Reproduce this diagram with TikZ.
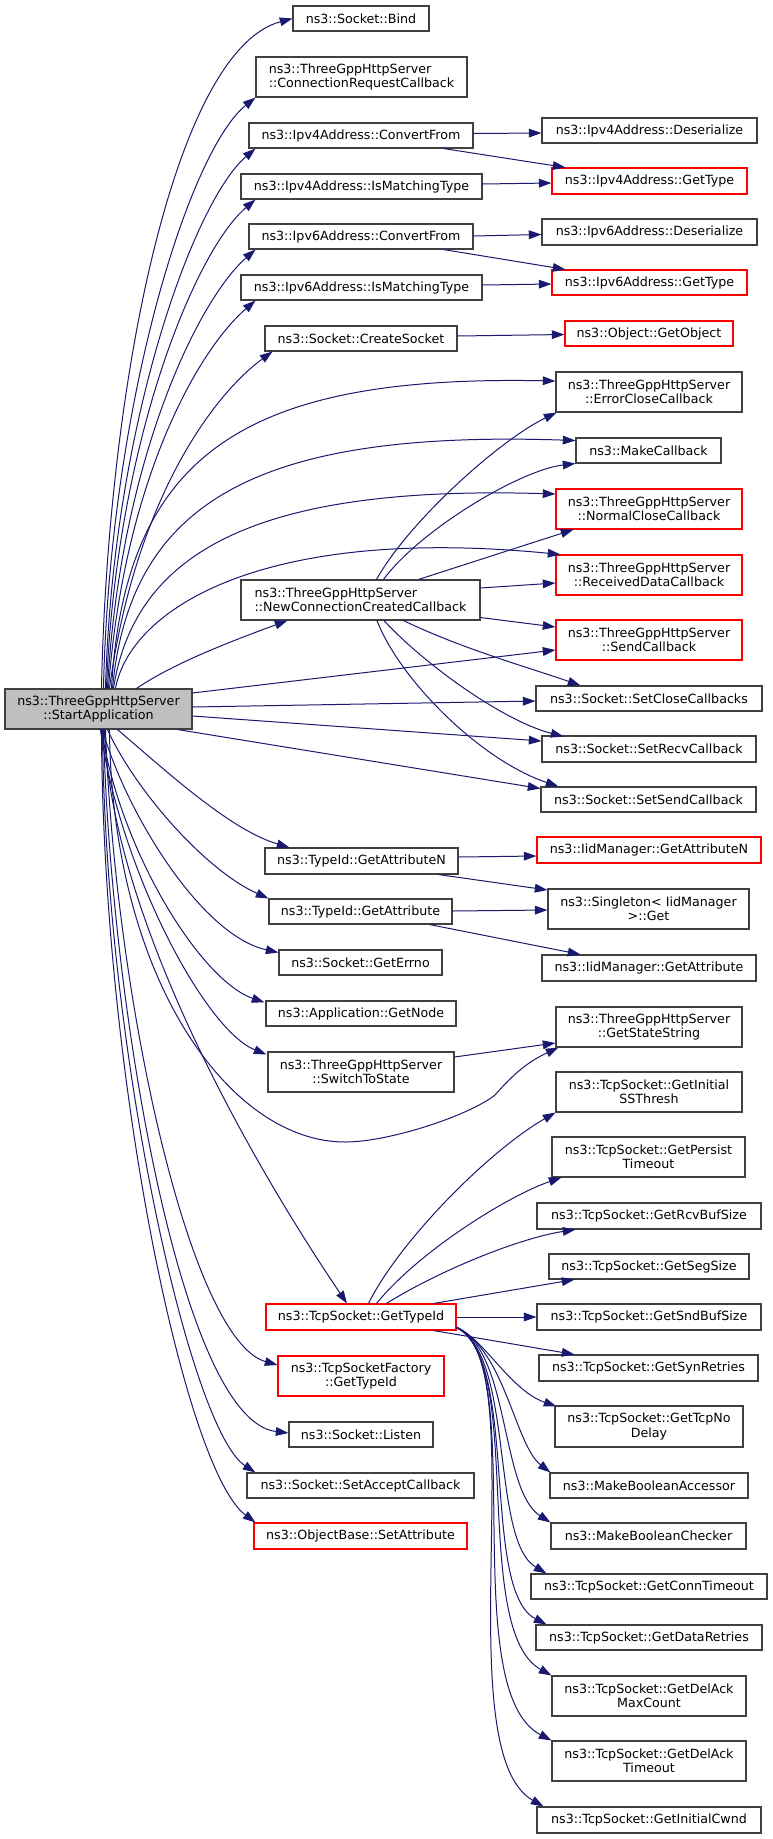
\documentclass[tikz,border=0pt]{standalone}
\usepackage{fontspec}
\setmainfont{DejaVu Sans}
\usetikzlibrary{arrows.meta,calc}
\definecolor{edgec}{HTML}{191970}
\definecolor{boxc}{HTML}{404040}
\definecolor{redc}{HTML}{FF0000}
\definecolor{rootc}{HTML}{BFBFBF}
\tikzset{
 bx/.style={draw=boxc, line width=0.8pt, fill=white, inner sep=0pt, align=center, font=\fontsize{9.5}{10.7}\selectfont},
 rbx/.style={bx, draw=redc},
 rootbx/.style={bx, fill=rootc},
 lbx/.style={bx, align=left},
 conn/.style={draw=edgec, line width=0.75pt, -{Triangle[length=9.5pt,width=6.5pt]}},
}
\newcommand\mkbox[7]{\node[#1,minimum width={#5*0.75pt},minimum height={#6*0.75pt}] (#2) at (#3,#4) {#7};}
\begin{document}
\begin{tikzpicture}[x=0.75pt,y=-0.75pt]
\fill[white] (0,0) rectangle (773,1839);
\useasboundingbox (0,0) rectangle (773,1839);
% column 1
\mkbox{rootbx}{S}{98.5}{709}{187}{40}{ns3::ThreeGppHttpServer\\::StartApplication}
% column 2
\mkbox{bx}{Bind}{361}{18.5}{136}{25}{ns3::Socket::Bind}
\mkbox{lbx}{CR}{361.5}{77}{211}{40}{ns3::ThreeGppHttpServer\\::ConnectionRequestCallback}
\mkbox{bx}{C4}{361}{135.5}{224}{25}{ns3::Ipv4Address::ConvertFrom}
\mkbox{bx}{M4}{361.5}{186.5}{241}{25}{ns3::Ipv4Address::IsMatchingType}
\mkbox{bx}{C6}{361}{236.5}{224}{25}{ns3::Ipv6Address::ConvertFrom}
\mkbox{bx}{M6}{361.5}{287.5}{241}{25}{ns3::Ipv6Address::IsMatchingType}
\mkbox{bx}{CS}{361}{338.5}{192}{25}{ns3::Socket::CreateSocket}
\mkbox{lbx}{NCC}{360.5}{600}{239}{40}{ns3::ThreeGppHttpServer\\::NewConnectionCreatedCallback}
\mkbox{bx}{GAN}{361.5}{861}{193}{26}{ns3::TypeId::GetAttributeN}
\mkbox{bx}{GA}{360.5}{911.5}{183}{25}{ns3::TypeId::GetAttribute}
\mkbox{bx}{GE}{360.5}{962.5}{163}{25}{ns3::Socket::GetErrno}
\mkbox{bx}{GN}{361}{1013.5}{190}{25}{ns3::Application::GetNode}
\mkbox{bx}{STS}{361}{1072}{186}{40}{ns3::ThreeGppHttpServer\\::SwitchToState}
\mkbox{rbx}{TT}{361}{1317}{190}{26}{ns3::TcpSocket::GetTypeId}
\mkbox{rbx}{TF}{361}{1376}{166}{40}{ns3::TcpSocketFactory\\::GetTypeId}
\mkbox{bx}{LI}{361}{1434.5}{144}{25}{ns3::Socket::Listen}
\mkbox{bx}{SAC}{360.5}{1485.5}{227}{25}{ns3::Socket::SetAcceptCallback}
\mkbox{rbx}{OSA}{360.5}{1536}{213}{26}{ns3::ObjectBase::SetAttribute}
% column 3
\mkbox{bx}{D4}{649.5}{130.5}{215}{25}{ns3::Ipv4Address::Deserialize}
\mkbox{rbx}{G4}{649.5}{181}{195}{26}{ns3::Ipv4Address::GetType}
\mkbox{bx}{D6}{649.5}{232}{215}{26}{ns3::Ipv6Address::Deserialize}
\mkbox{rbx}{G6}{649.5}{282.5}{195}{25}{ns3::Ipv6Address::GetType}
\mkbox{rbx}{GO}{649}{333.5}{168}{25}{ns3::Object::GetObject}
\mkbox{bx}{EC}{649}{392}{186}{40}{ns3::ThreeGppHttpServer\\::ErrorCloseCallback}
\mkbox{bx}{MC}{648.5}{450.5}{145}{25}{ns3::MakeCallback}
\mkbox{rbx}{NC}{649}{509}{186}{40}{ns3::ThreeGppHttpServer\\::NormalCloseCallback}
\mkbox{rbx}{RD}{649}{575}{186}{40}{ns3::ThreeGppHttpServer\\::ReceivedDataCallback}
\mkbox{rbx}{SC}{649}{640}{186}{40}{ns3::ThreeGppHttpServer\\::SendCallback}
\mkbox{bx}{SCC}{649}{698.5}{226}{25}{ns3::Socket::SetCloseCallbacks}
\mkbox{bx}{SRC}{649}{749}{214}{26}{ns3::Socket::SetRecvCallback}
\mkbox{bx}{SSC}{648.5}{799.5}{215}{25}{ns3::Socket::SetSendCallback}
\mkbox{rbx}{IGAN}{649}{850}{224}{26}{ns3::IidManager::GetAttributeN}
\mkbox{bx}{SG}{648.5}{909}{201}{40}{ns3::Singleton< IidManager\\>::Get}
\mkbox{bx}{IGA}{649}{968}{214}{26}{ns3::IidManager::GetAttribute}
\mkbox{bx}{GSS}{649}{1027}{186}{40}{ns3::ThreeGppHttpServer\\::GetStateString}
\mkbox{bx}{SS}{649}{1092}{186}{40}{ns3::TcpSocket::GetInitial\\SSThresh}
\mkbox{bx}{PT}{648.5}{1157}{193}{40}{ns3::TcpSocket::GetPersist\\Timeout}
\mkbox{bx}{RB}{649}{1216}{224}{26}{ns3::TcpSocket::GetRcvBufSize}
\mkbox{bx}{SG2}{649}{1266.5}{200}{25}{ns3::TcpSocket::GetSegSize}
\mkbox{bx}{SB}{649}{1317}{224}{26}{ns3::TcpSocket::GetSndBufSize}
\mkbox{bx}{SR}{648.5}{1368}{219}{26}{ns3::TcpSocket::GetSynRetries}
\mkbox{bx}{ND}{649}{1426.5}{188}{41}{ns3::TcpSocket::GetTcpNo\\Delay}
\mkbox{bx}{MBA}{649}{1485.5}{198}{25}{ns3::MakeBooleanAccessor}
\mkbox{bx}{MBC}{648.5}{1536}{195}{26}{ns3::MakeBooleanChecker}
\mkbox{bx}{CT}{649}{1586.5}{236}{25}{ns3::TcpSocket::GetConnTimeout}
\mkbox{bx}{DR}{649}{1637.5}{226}{25}{ns3::TcpSocket::GetDataRetries}
\mkbox{bx}{DAM}{649}{1696}{194}{40}{ns3::TcpSocket::GetDelAck\\MaxCount}
\mkbox{bx}{DAT}{649}{1761}{194}{40}{ns3::TcpSocket::GetDelAck\\Timeout}
\mkbox{bx}{IC}{649}{1820}{224}{26}{ns3::TcpSocket::GetInitialCwnd}
% edges from StartApplication, upward
\draw[conn] ($(S.north west)+(97,0)$) .. controls (108,380) and (175,50) .. (Bind.west);
\draw[conn] ($(S.north west)+(99,0)$) .. controls (110,400) and (190,150) .. (CR.south west);
\draw[conn] ($(S.north west)+(101,0)$) .. controls (113,420) and (195,200) .. ($(C4.south west)+(7,0)$);
\draw[conn] ($(S.north west)+(102,0)$) .. controls (116,440) and (196,250) .. ($(M4.south west)+(15,0)$);
\draw[conn] ($(S.north west)+(103,0)$) .. controls (120,460) and (198,300) .. ($(C6.south west)+(7,0)$);
\draw[conn] ($(S.north west)+(104,0)$) .. controls (124,480) and (198,350) .. ($(M6.south west)+(15,0)$);
\draw[conn] ($(S.north west)+(105,0)$) .. controls (135,500) and (213,395) .. ($(CS.south west)+(8,0)$);
\draw[conn] ($(S.north west)+(107,0)$) .. controls (125,450) and (250,375) .. ($(EC.west)+(0,-11)$);
\draw[conn] ($(S.north west)+(108,0)$) .. controls (130,500) and (260,430) .. ($(MC.west)+(0,-10)$);
\draw[conn] ($(S.north west)+(109,0)$) .. controls (135,550) and (260,485) .. ($(NC.west)+(0,-15)$);
\draw[conn] ($(S.north west)+(111,0)$) .. controls (130,610) and (260,525) .. ($(RD.north west)+(5,0)$);
\draw[conn] ($(S.north west)+(132,0)$) .. controls (175,662) and (240,638) .. ($(NCC.south west)+(47,0)$);
% edges from StartApplication, right
\draw[conn] ($(S.east)+(0,-16)$) -- ($(SC.west)+(0,10)$);
\draw[conn] ($(S.east)+(0,-2)$) -- ($(SCC.west)+(0,2.5)$);
\draw[conn] ($(S.east)+(0,7)$) -- ($(SRC.west)+(0,-8)$);
\draw[conn] ($(S.south east)+(-15,0)$) -- ($(SSC.west)+(0,-11)$);
% edges from StartApplication, downward
\draw[conn] ($(S.south west)+(113,0)$) .. controls (165,770) and (230,830) .. ($(GAN.north west)+(25,0)$);
\draw[conn] ($(S.south west)+(103,0)$) .. controls (135,790) and (205,870) .. (GA.north west);
\draw[conn] ($(S.south west)+(98,0)$) .. controls (125,810) and (200,935) .. ($(GE.west)+(0,-10)$);
\draw[conn] ($(S.south west)+(97,0)$) .. controls (120,850) and (200,980) .. ($(GN.north west)+(-1,2)$);
\draw[conn] ($(S.south west)+(96,0)$) .. controls (120,870) and (205,1030) .. ($(STS.north west)+(-1,3)$);
\draw[conn] ($(S.south west)+(105,0)$) .. controls (112,980) and (230,1142) .. (345,1142) .. controls (390,1142) and (470,1115) .. (495,1095) .. controls (510,1078) and (525,1063) .. ($(GSS.south west)+(3,0)$);
\draw[conn] ($(S.south west)+(100,0)$) .. controls (110,900) and (230,1130) .. ($(TT.north)+(-14,0)$);
\draw[conn] ($(S.south west)+(101,0)$) .. controls (115,1000) and (190,1340) .. ($(TF.west)+(0,-11)$);
\draw[conn] ($(S.south west)+(99,0)$) .. controls (110,1000) and (180,1420) .. ($(LI.west)+(0,-1.5)$);
\draw[conn] ($(S.south west)+(98,0)$) .. controls (105,1050) and (190,1430) .. ($(SAC.north west)+(9,0)$);
\draw[conn] ($(S.south west)+(97,0)$) .. controls (103,1080) and (185,1470) .. ($(OSA.north west)+(2,0)$);
% column 2 to column 3
\draw[conn] ($(C4.east)+(0,-2)$) -- ($(D4.west)+(0,2.5)$);
\draw[conn] ($(C4.south east)+(-30,0)$) -- ($(G4.north west)+(14,0)$);
\draw[conn] ($(M4.east)+(0,-2.5)$) -- ($(G4.west)+(0,2)$);
\draw[conn] ($(C6.east)+(0,-0.5)$) -- ($(D6.west)+(0,2.5)$);
\draw[conn] ($(C6.south east)+(-30,0)$) -- ($(G6.north west)+(14,0)$);
\draw[conn] ($(M6.east)+(0,-2.5)$) -- ($(G6.west)+(0,1.5)$);
\draw[conn] ($(CS.east)+(0,-2.5)$) -- ($(GO.west)+(0,1)$);
\draw[conn] ($(NCC.north west)+(136,0)$) .. controls (410,520) and (500,440) .. ($(EC.south west)+(1,0)$);
\draw[conn] ($(NCC.north west)+(143,0)$) .. controls (420,530) and (520,470) .. (MC.south west);
\draw[conn] ($(NCC.north west)+(178,0)$) -- ($(NC.south west)+(18,0)$);
\draw[conn] ($(NCC.east)+(0,-12)$) -- ($(RD.west)+(0,8)$);
\draw[conn] ($(NCC.south east)+(0,-3)$) -- ($(SC.west)+(0,-13)$);
\draw[conn] ($(NCC.south)+(43,0)$) .. controls (460,648) and (530,668) .. ($(SCC.north west)+(45,0)$);
\draw[conn] ($(NCC.south)+(23.5,0)$) .. controls (420,660) and (500,720) .. ($(SRC.north west)+(22,1)$);
\draw[conn] ($(NCC.south)+(16.5,0)$) .. controls (400,680) and (480,760) .. ($(SSC.north west)+(18,0)$);
\draw[conn] ($(GAN.east)+(0,-4)$) -- ($(IGAN.west)+(0,6)$);
\draw[conn] ($(GAN.south east)+(-20,0)$) -- ($(SG.west)+(0,-19)$);
\draw[conn] ($(GA.east)+(0,-0.5)$) -- ($(SG.west)+(0,1)$);
\draw[conn] ($(GA.south east)+(-23,0)$) -- ($(IGA.north west)+(39,0)$);
\draw[conn] ($(STS.east)+(0,-15)$) -- ($(GSS.west)+(0,16)$);
% TcpSocket::GetTypeId fan
\draw[conn] ($(TT.north west)+(103,0)$) .. controls (400,1240) and (490,1150) .. (SS.south west);
\draw[conn] ($(TT.north west)+(111,0)$) .. controls (420,1250) and (510,1195) .. ($(PT.south west)+(10,0)$);
\draw[conn] ($(TT.north west)+(121,0)$) .. controls (440,1270) and (520,1238) .. ($(RB.south west)+(39,0)$);
\draw[conn] ($(TT.north east)+(-23,0)$) -- ($(SG2.south west)+(26,0)$);
\draw[conn] (TT.east) -- (SB.west);
\draw[conn] ($(TT.south east)+(-23,0)$) -- ($(SR.north west)+(36,0)$);
\draw[conn] ($(TT.east)+(0,10)$) .. controls (485,1340) and (510,1390) .. ($(ND.north west)+(2,1)$);
\draw[conn] ($(TT.south east)+(0,-3)$) .. controls (505,1350) and (515,1445) .. ($(MBA.north west)+(1,0)$);
\draw[conn] ($(TT.south east)+(0,-3)$) .. controls (510,1350) and (500,1490) .. (MBC.north west);
\draw[conn] ($(TT.south east)+(0,-3)$) .. controls (515,1355) and (490,1540) .. ($(CT.north west)+(16,0)$);
\draw[conn] ($(TT.south east)+(0,-3)$) .. controls (520,1360) and (480,1590) .. ($(DR.north west)+(11,0)$);
\draw[conn] ($(TT.south east)+(0,-3)$) .. controls (525,1360) and (470,1630) .. (DAM.north west);
\draw[conn] ($(TT.south east)+(0,-3)$) .. controls (530,1360) and (455,1690) .. (DAT.north west);
\draw[conn] ($(TT.south east)+(0,-3)$) .. controls (535,1360) and (445,1750) .. ($(IC.north west)+(7,0)$);
\end{tikzpicture}
\end{document}
